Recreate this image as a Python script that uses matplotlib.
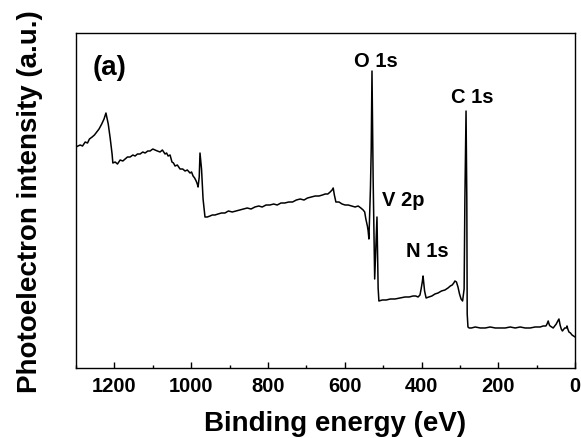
import matplotlib.pyplot as plt

plt.rcParams["font.family"] = ["Liberation Sans", "DejaVu Sans"]
plt.rcParams["font.weight"] = "bold"

# survey spectrum (binding energy in eV, intensity in a.u.)
energy = [
    1300, 1295, 1289, 1283, 1276, 1270, 1265, 1258, 1252, 1246, 1240, 1233, 1227, 1222,
    1216, 1211, 1206, 1204, 1198, 1192, 1185, 1178, 1172, 1166, 1159, 1152, 1146, 1140,
    1133, 1126, 1120, 1113, 1107, 1100, 1094, 1088, 1081, 1075, 1068, 1064, 1060, 1055,
    1050, 1046, 1042, 1036, 1029, 1022, 1016, 1010, 1003, 999, 995, 991, 987, 984, 982,
    979, 977, 973, 969, 964, 958, 951, 945, 938, 930, 921, 912, 903, 893, 883, 873, 863,
    854, 844, 834, 824, 815, 805, 795, 785, 776, 766, 756, 746, 736, 726, 716, 706, 697,
    687, 677, 667, 658, 651, 644, 638, 633, 630, 627, 623, 615, 607, 599, 591, 582, 573,
    565, 558, 552, 548, 545, 541, 539, 537, 533, 531, 529, 527, 526, 524, 522, 520, 518,
    516, 514, 513, 511, 502, 492, 481, 469, 456, 443, 432, 422, 415, 409, 404, 401, 398,
    396, 394, 392, 388, 381, 373, 365, 357, 348, 339, 331, 325, 320, 316, 313, 309, 305,
    301, 297, 293, 289, 287, 284, 282, 281, 279, 276, 270, 260, 247, 234, 221, 208, 195,
    182, 169, 156, 143, 130, 117, 104, 91, 83, 76, 73, 70, 67, 65, 61, 57, 53, 49, 45, 42,
    39, 36, 33, 31, 27, 23, 21, 19, 16, 12, 8, 4, 0,
]
intensity = [
    221, 222, 223, 222, 226, 225, 229, 231, 233, 236, 239, 244, 249, 255,
    244, 230, 214, 205, 206, 204, 208, 207, 209, 211, 211, 213, 212, 214,
    214, 216, 215, 217, 217, 219, 218, 217, 216, 218, 214, 215, 212, 213,
    206, 205, 202, 203, 199, 199, 197, 198, 195, 196, 192, 190, 187, 184, 181,
    191, 215, 199, 169, 151, 151, 152, 153, 153, 154, 155, 155, 157, 156, 157, 158, 159,
    160, 159, 161, 162, 161, 163, 163, 164, 163, 165, 165, 166, 166, 168, 169, 168, 170,
    171, 172, 172, 173, 174, 174, 176, 178, 180, 173, 166, 166, 164, 163, 163, 162, 161,
    162, 160, 158, 156, 149, 142, 137, 129, 180, 219, 297, 230, 189, 140, 89, 110, 134,
    151, 99, 80, 67, 68, 68, 69, 69, 70, 71, 71, 72, 72, 71, 73, 79, 86,
    92, 84, 77, 70, 71, 72, 74, 75, 77, 78, 80, 82, 83, 85, 87, 86, 81,
    74, 69, 67, 79, 169, 257, 169, 54, 41, 40, 40, 41, 40, 40, 41, 40, 40,
    40, 41, 40, 41, 40, 40, 41, 41, 42, 42, 44, 47, 43, 42, 41, 40, 42, 44, 47, 49,
    43, 39, 37, 38, 40, 40, 42, 39, 36, 35, 33, 32, 31,
]

tick_values = [1200, 1000, 800, 600, 400, 200, 0]

peak_labels = ["O 1s", "C 1s", "V 2p", "N 1s"]
peak_label_energy = [518, 268, 448, 386]
peak_label_intensity = [308, 272, 169, 117]

fig = plt.figure(figsize=(5.81, 4.39), dpi=100)
ax = fig.add_axes([0.1308, 0.1595, 0.859, 0.763])

ax.plot(energy, intensity, color="black", linewidth=1.1)

ax.set_xlim(1300, 0)
ax.set_ylim(0, 335)
ax.set_xticks(tick_values)
ax.set_xticks(range(1300, -1, -100), minor=True)
ax.set_yticks([])
ax.tick_params(axis="x", which="major", direction="in", length=4, width=1,
               labelsize=14.5, pad=6)
ax.tick_params(axis="x", which="minor", direction="in", length=2.2, width=1)
for s in ax.spines.values():
    s.set_linewidth(1)

ax.set_xlabel("Binding energy (eV)", fontsize=20, fontweight="bold")
ax.xaxis.set_label_coords(0.519, -0.125)
ax.set_ylabel("Photoelectron intensity (a.u.)", fontsize=20, fontweight="bold",
              labelpad=24)

ax.text(0.068, 0.9, "(a)", transform=ax.transAxes, fontsize=20,
        fontweight="bold", ha="center", va="center")
for lab, e, i in zip(peak_labels, peak_label_energy, peak_label_intensity):
    ax.text(e, i, lab, fontsize=14.5, fontweight="bold", ha="center", va="center")

fig.savefig("out.png", dpi=100)
